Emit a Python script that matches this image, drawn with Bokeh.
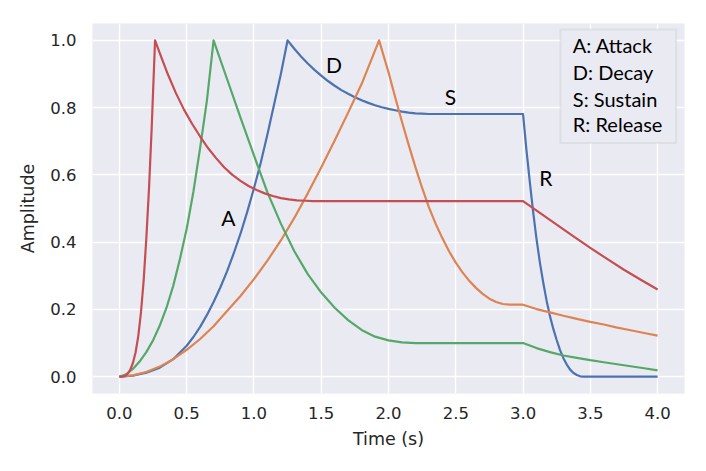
from bokeh.plotting import figure
from bokeh.models import Range1d, FixedTicker, PrintfTickFormatter, Label, BoxAnnotation
from bokeh.embed import file_html
from bokeh.resources import INLINE

# ---------------- data ----------------
red_t = [0.00, 0.02, 0.04, 0.06, 0.08, 0.10, 0.12, 0.14, 0.16, 0.18, 0.20, 0.22, 0.24, 0.265,
         0.30, 0.36, 0.42, 0.48, 0.54, 0.60, 0.66, 0.72, 0.78, 0.84, 0.90, 0.96, 1.02, 1.08,
         1.14, 1.20, 1.26, 1.32, 1.38, 1.44,
         3.00, 3.125, 3.25, 3.375, 3.50, 3.625, 3.75, 3.875, 4.00]
red_a = [0.000, 0.0003, 0.002, 0.008, 0.020, 0.040, 0.072, 0.120, 0.190, 0.285, 0.410, 0.560, 0.740, 1.000,
         0.962, 0.899, 0.843, 0.794, 0.752, 0.714, 0.679, 0.649, 0.622, 0.600, 0.582, 0.567, 0.555, 0.545,
         0.537, 0.531, 0.527, 0.524, 0.523, 0.522,
         0.522, 0.487, 0.452, 0.417, 0.383, 0.350, 0.318, 0.288, 0.259]

green_t = [0.00, 0.05, 0.10, 0.15, 0.20, 0.25, 0.30, 0.35, 0.40, 0.45, 0.50, 0.55, 0.60, 0.65, 0.70,
           0.80, 0.90, 1.00, 1.10, 1.20, 1.30, 1.40, 1.50, 1.60, 1.70, 1.80, 1.90, 2.00, 2.10, 2.20, 2.30,
           3.00, 3.10, 3.20, 3.30, 3.40, 3.50, 3.60, 3.70, 3.80, 3.90, 4.00]
green_a = [0.000, 0.007, 0.023, 0.045, 0.073, 0.108, 0.152, 0.205, 0.270, 0.350, 0.440, 0.550, 0.680, 0.820, 1.000,
           0.885, 0.770, 0.658, 0.548, 0.455, 0.373, 0.305, 0.250, 0.205, 0.168, 0.139, 0.119, 0.108, 0.102, 0.100, 0.100,
           0.100, 0.085, 0.073, 0.063, 0.056, 0.049, 0.043, 0.037, 0.031, 0.025, 0.019]

blue_t = [0.00, 0.10, 0.20, 0.30, 0.40, 0.50, 0.55, 0.60, 0.65, 0.70, 0.75, 0.80, 0.85, 0.90, 0.95, 1.00,
          1.05, 1.10, 1.15, 1.20, 1.25,
          1.30, 1.35, 1.40, 1.45, 1.50, 1.55, 1.60, 1.65, 1.70, 1.75, 1.80, 1.85, 1.90, 1.95, 2.00, 2.05,
          2.10, 2.15, 2.20, 2.25, 2.30,
          3.00, 3.025, 3.05, 3.075, 3.10, 3.125, 3.15, 3.175, 3.20, 3.225, 3.25, 3.275, 3.30, 3.325, 3.35,
          3.375, 3.40, 3.425, 3.45, 4.00]
blue_a = [0.000, 0.003, 0.012, 0.027, 0.052, 0.092, 0.118, 0.148, 0.183, 0.222, 0.265, 0.313, 0.367, 0.425, 0.490, 0.560,
          0.635, 0.720, 0.810, 0.900, 1.000,
          0.975, 0.952, 0.931, 0.912, 0.895, 0.879, 0.865, 0.852, 0.841, 0.831, 0.822, 0.814, 0.807, 0.801, 0.796, 0.792,
          0.788, 0.785, 0.783, 0.782, 0.781,
          0.781, 0.675, 0.580, 0.490, 0.410, 0.340, 0.280, 0.226, 0.180, 0.142, 0.109, 0.079, 0.055, 0.036, 0.021,
          0.011, 0.005, 0.001, 0.000, 0.000]

orange_t = [0.00, 0.10, 0.20, 0.30, 0.40, 0.50, 0.60, 0.70, 0.80, 0.90, 1.00, 1.10, 1.20, 1.30, 1.40, 1.50, 1.60,
            1.70, 1.80, 1.93,
            2.00, 2.05, 2.10, 2.15, 2.20, 2.25, 2.30, 2.35, 2.40, 2.45, 2.50, 2.55, 2.60, 2.65, 2.70, 2.75, 2.80,
            2.85, 2.90, 2.95,
            3.00, 3.10, 3.20, 3.30, 3.40, 3.50, 3.60, 3.70, 3.80, 3.90, 4.00]
orange_a = [0.000, 0.004, 0.014, 0.030, 0.052, 0.080, 0.112, 0.150, 0.195, 0.240, 0.290, 0.345, 0.405, 0.472, 0.545,
            0.622, 0.702, 0.785, 0.870, 1.000,
            0.905, 0.830, 0.758, 0.689, 0.623, 0.561, 0.504, 0.455, 0.412, 0.373, 0.339, 0.310, 0.285, 0.264, 0.246,
            0.232, 0.222, 0.216, 0.214, 0.214,
            0.214, 0.201, 0.191, 0.181, 0.172, 0.163, 0.155, 0.146, 0.138, 0.130, 0.122]

x_ticks = [0.0, 0.5, 1.0, 1.5, 2.0, 2.5, 3.0, 3.5, 4.0]
y_ticks = [0.0, 0.2, 0.4, 0.6, 0.8, 1.0]

stage_text = ["A", "D", "S", "R"]
stage_t = [0.81, 1.595, 2.46, 3.169]
stage_a = [0.473, 0.929, 0.833, 0.593]

legend_lines = ["A: Attack", "D: Decay", "S: Sustain", "R: Release"]

x_label = "Time (s)"
y_label = "Amplitude"

# ---------------- figure ----------------
p = figure(width=698, height=463,
           x_range=Range1d(-0.2, 4.2), y_range=Range1d(-0.05, 1.05),
           output_backend="svg", toolbar_location=None,
           min_border_left=92, min_border_right=14, min_border_top=23, min_border_bottom=70)

p.background_fill_color = "#eaeaf2"
p.border_fill_color = "white"
p.outline_line_color = None

for g in (p.xgrid, p.ygrid):
    g.grid_line_color = "white"
    g.grid_line_width = 1.4

p.xaxis.ticker = FixedTicker(ticks=x_ticks)
p.yaxis.ticker = FixedTicker(ticks=y_ticks)
p.xaxis.formatter = PrintfTickFormatter(format="%.1f")
p.yaxis.formatter = PrintfTickFormatter(format="%.1f")

for ax in (p.xaxis, p.yaxis):
    ax.axis_line_color = None
    ax.major_tick_line_color = None
    ax.minor_tick_line_color = None
    ax.major_tick_out = 0
    ax.major_tick_in = 0
    ax.major_label_text_font = "DejaVu Sans"
    ax.major_label_text_font_size = "16.5px"
    ax.major_label_text_color = "#262626"
    ax.axis_label_text_font = "DejaVu Sans"
    ax.axis_label_text_font_size = "17.5px"
    ax.axis_label_text_font_style = "normal"
    ax.axis_label_text_color = "#262626"

p.xaxis.axis_label = x_label
p.yaxis.axis_label = y_label
p.xaxis.major_label_standoff = 13
p.yaxis.major_label_standoff = 16
p.xaxis.axis_label_standoff = 7
p.yaxis.axis_label_standoff = 9

lw = 2.2
p.line(blue_t, blue_a, line_color="#4c72b0", line_width=lw, line_join="round")
p.line(orange_t, orange_a, line_color="#dd8452", line_width=lw, line_join="round")
p.line(green_t, green_a, line_color="#55a868", line_width=lw, line_join="round")
p.line(red_t, red_a, line_color="#c44e52", line_width=lw, line_join="round")

for s, tx, ay in zip(stage_text, stage_t, stage_a):
    p.add_layout(Label(x=tx, y=ay, text=s, text_font="Lato", text_font_size="21px",
                       text_color="black", text_align="center", text_baseline="middle"))

# legend-like text box
p.add_layout(BoxAnnotation(left=3.278, right=4.138, bottom=0.695, top=1.032,
                           fill_color="#eaeaf2", fill_alpha=1.0,
                           line_color="#c4c4c8", line_width=2, level="overlay"))
legend_y = [0.9855, 0.9064, 0.827, 0.7498]
for txt, ly in zip(legend_lines, legend_y):
    p.add_layout(Label(x=3.37, y=ly, text=txt, text_font="Lato", text_font_size="20px",
                       text_color="black", text_align="left", text_baseline="middle",
                       level="overlay"))

open("out.html", "w").write(file_html(p, INLINE))
